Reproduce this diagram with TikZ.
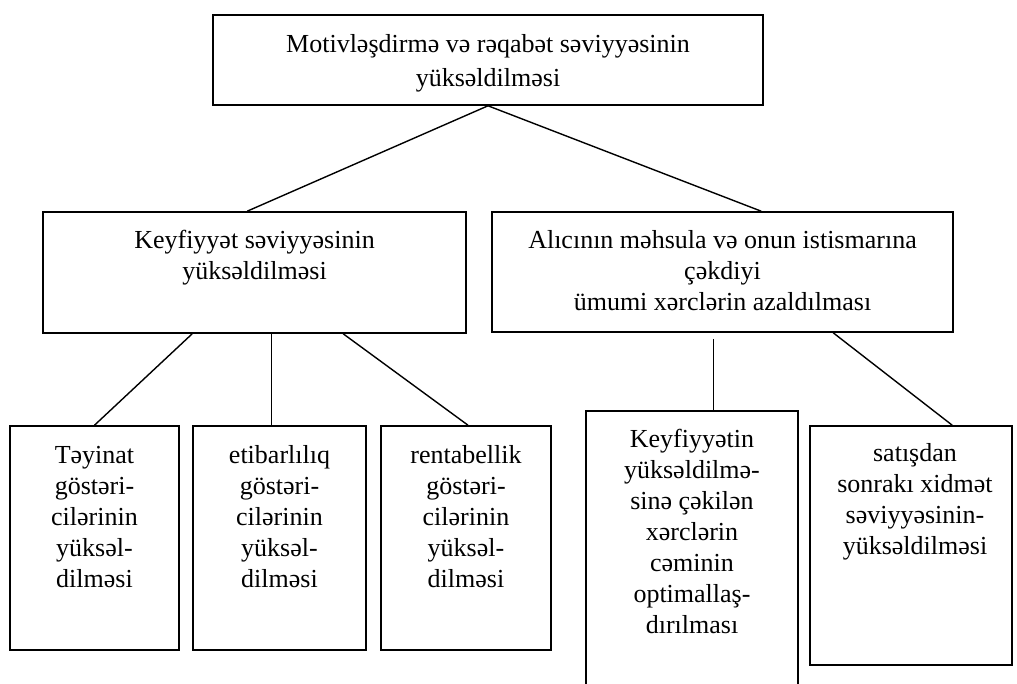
\documentclass[tikz,border=0pt]{standalone}
\usepackage{fontspec}
\setmainfont{Liberation Serif}
\usetikzlibrary{calc}
\begin{document}
\begin{tikzpicture}[x=1pt,y=-1pt,
  box/.style={draw, line width=1.6pt, inner sep=0pt},
  conn/.style={draw, line width=1.4pt},
  txt/.style={align=center, inner sep=0pt, anchor=north, font=\fontsize{26}{31}\selectfont},
  txtwide/.style={txt, font=\fontsize{26}{34}\selectfont}]
\useasboundingbox[fill=white] (0,0) rectangle (1017,684);
% boxes
\node[box, minimum width=550pt, minimum height=90pt] (T) at (488,60) {};
\node[box, minimum width=423pt, minimum height=121pt] (K) at (254.5,272.5) {};
\node[box, minimum width=461pt, minimum height=120pt] (A) at (722.5,272) {};
\node[box, minimum width=169pt, minimum height=224pt] (B1) at (94.5,538) {};
\node[box, minimum width=173pt, minimum height=224pt] (B2) at (279.5,538) {};
\node[box, minimum width=170pt, minimum height=224pt] (B3) at (466,538) {};
\node[box, minimum width=212pt, minimum height=289pt] (B4) at (692,555.5) {};
\node[box, minimum width=202pt, minimum height=239pt] (B5) at (911,545.5) {};
% texts
\node[txtwide] (tT) at (488,28.2) {\strut Motivləşdirmə və rəqabət səviyyəsinin\\yüksəldilməsi};
\node[txt] (tK) at (254.5,226.3) {\strut Keyfiyyət səviyyəsinin\\yüksəldilməsi};
\node[txt] (tA) at (722.5,226.3) {\strut Alıcının məhsula və onun istismarına\\çəkdiyi\\ümumi xərclərin azaldılması};
\node[txt] (t1) at (94.5,441.3) {\strut Təyinat\\göstəri-\\cilərinin\\yüksəl-\\dilməsi};
\node[txt] (t2) at (279.5,441.3) {\strut etibarlılıq\\göstəri-\\cilərinin\\yüksəl-\\dilməsi};
\node[txt] (t3) at (466,441.3) {\strut rentabellik\\göstəri-\\cilərinin\\yüksəl-\\dilməsi};
\node[txt] (t4) at (692,425.3) {\strut Keyfiyyətin\\yüksəldilmə-\\sinə çəkilən\\xərclərin\\cəminin\\optimallaş-\\dırılması};
\node[txt] (t5) at (915,439.3) {\strut satışdan\\sonrakı xidmət\\səviyyəsinin-\\yüksəldilməsi};
% connectors
\draw[conn] (T.south) -- ($(K.north west)+(205,0)$);
\draw[conn] (T.south) -- ($(A.north west)+(270,0)$);
\draw[conn] ($(K.south west)+(150,0)$) -- (B1.north);
\draw[conn] ($(K.south west)+(229,0)$) -- ($(B2.north west)+(79,0)$);
\draw[conn] ($(K.south west)+(301,0)$) -- ($(B3.north)+(2,0)$);
\coordinate (a4) at ($(A.south west)+(222,6)$);
\draw[conn] (a4) -- ($(B4.north west)+(128,0)$);
\draw[conn] ($(A.south west)+(342,0)$) -- ($(B5.north west)+(143,0)$);
\end{tikzpicture}
\end{document}
